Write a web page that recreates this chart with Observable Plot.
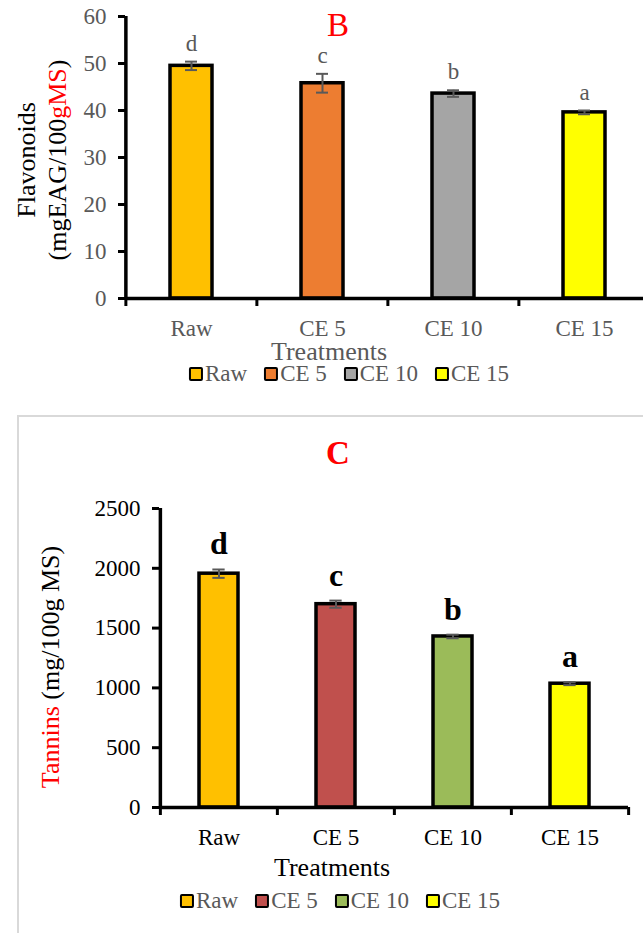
<!DOCTYPE html>
<html><head><meta charset="utf-8">
<script src="https://cdn.jsdelivr.net/npm/d3@7"></script>
<script src="https://cdn.jsdelivr.net/npm/@observablehq/plot@0.6"></script>
<style>
body{margin:0;background:#fff;}
#root{position:relative;width:643px;height:933px;overflow:hidden;font-family:"Liberation Serif","Times New Roman",serif;background:#fff;}
.abs{position:absolute;white-space:nowrap;}
.ctr{transform:translate(-50%,-50%);}
.legend{display:flex;align-items:center;font-size:23px;line-height:20px;color:#595959;}
.legend .item{display:flex;align-items:center;margin-right:17px;}
.legend .item:last-child{margin-right:0;}
.legend .sw{width:14px;height:14px;box-sizing:border-box;border:2.5px solid #000;border-radius:2px;margin-right:2px;}
.plotwrap{position:absolute;left:0;}
</style></head><body><div id="root"></div>
<script>
// ---------- data ----------
const treatments = ["Raw", "CE 5", "CE 10", "CE 15"];

const flavonoids = [49.5, 45.8, 43.6, 39.6];
const flavonoidsErr = [0.9, 2.0, 0.7, 0.4];
const flavonoidsLetters = ["d", "c", "b", "a"];
const flavonoidsColors = ["#FFC000", "#ED7D31", "#A5A5A5", "#FFFF00"];
const flavonoidsTicks = [0, 10, 20, 30, 40, 50, 60];

const tannins = [1955, 1700, 1430, 1035];
const tanninsErr = [35, 30, 15, 12];
const tanninsLetters = ["d", "c", "b", "a"];
const tanninsColors = ["#FFC000", "#C0504D", "#9BBB59", "#FFFF00"];
const tanninsTicks = [0, 500, 1000, 1500, 2000, 2500];

// ---------- helpers ----------
const root = document.getElementById("root");

function addDiv(html, cls, style) {
  const d = document.createElement("div");
  d.className = cls;
  d.innerHTML = html;
  Object.assign(d.style, style);
  root.appendChild(d);
  return d;
}

function makeChart(cfg) {
  const data = treatments.map((t, i) => ({t, v: cfg.values[i], e: cfg.errs[i], l: cfg.letters[i]}));
  const W = 643;
  const step = (W - cfg.ml - cfg.mr) / treatments.length;
  const pad = cfg.pad;
  const bw = step * (1 - pad);
  const capInset = (bw - 12) / 2;
  const last = treatments[treatments.length - 1];
  return Plot.plot({
    width: W, height: cfg.height,
    marginLeft: cfg.ml, marginRight: cfg.mr, marginTop: cfg.mt, marginBottom: cfg.mb,
    style: {fontFamily: '"Liberation Serif","Times New Roman",serif', background: "transparent", overflow: "visible"},
    x: {domain: treatments, paddingInner: pad, paddingOuter: pad / 2, axis: null},
    y: {domain: [0, cfg.ticks[cfg.ticks.length - 1]], axis: null},
    color: {domain: treatments, range: cfg.colors},
    marks: [
      Plot.barY(data, {x: "t", y: "v", fill: "t", stroke: "#000", strokeWidth: 3.5}),
      Plot.ruleX(data, {x: "t", y1: d => d.v - d.e, y2: d => d.v + d.e, stroke: "#595959", strokeWidth: 2}),
      Plot.tickY(data, {x: "t", y: d => d.v - d.e, stroke: "#595959", strokeWidth: 2, insetLeft: capInset, insetRight: capInset}),
      Plot.tickY(data, {x: "t", y: d => d.v + d.e, stroke: "#595959", strokeWidth: 2, insetLeft: capInset, insetRight: capInset}),
      Plot.text(data, {x: "t", y: d => d.v + d.e, text: "l", lineAnchor: "bottom", dy: cfg.letterDy,
        fontSize: cfg.letterSize, fontWeight: cfg.letterWeight, fill: cfg.letterColor}),
      Plot.ruleY([0], {stroke: "#000", strokeWidth: 3.5}),
      Plot.ruleX([treatments[0]], {x: d => d, dx: -step / 2, stroke: "#000", strokeWidth: 3.5}),
      Plot.ruleX(treatments, {x: d => d, dx: -step / 2, y1: 0, y2: 0, insetBottom: -8, stroke: "#000", strokeWidth: 3}),
      Plot.ruleX([last], {x: d => d, dx: step / 2, y1: 0, y2: 0, insetBottom: -8, stroke: "#000", strokeWidth: 3}),
      Plot.axisY({ticks: cfg.ticks, tickSize: 7, tickPadding: 12, stroke: "#000", strokeWidth: 3,
        fill: cfg.tickColor, fontSize: cfg.tickSize, label: null, tickFormat: d => String(d)}),
      Plot.axisX({tickSize: 0, tickPadding: 21, fill: cfg.catColor, fontSize: 23, label: null})
    ]
  });
}

// ---------- Chart B : flavonoids ----------
const svgB = makeChart({
  values: flavonoids, errs: flavonoidsErr, letters: flavonoidsLetters, colors: flavonoidsColors, ticks: flavonoidsTicks,
  height: 345, ml: 125, mr: -7, mt: 16, mb: 47, pad: 0.68,
  letterDy: -11, letterSize: 23, letterWeight: "normal", letterColor: "#595959",
  tickColor: "#595959", tickSize: 23, catColor: "#595959"
});
const wrapB = document.createElement("div");
wrapB.className = "plotwrap"; wrapB.style.top = "0px";
wrapB.appendChild(svgB); root.appendChild(wrapB);

addDiv("B", "abs ctr", {left: "338px", top: "25px", fontSize: "33px", color: "#FF0000"});
addDiv('Flavonoids<br>(mgEAG/100<span style="color:#FF0000">gMS</span>)', "abs",
  {left: "42px", top: "160px", fontSize: "26px", lineHeight: "31px", textAlign: "center", color: "#000",
   transform: "translate(-50%,-50%) rotate(-90deg)"});
addDiv("Treatments", "abs ctr", {left: "329px", top: "352px", fontSize: "26px", lineHeight: "20px", color: "#595959"});

function legend(colors, cx, cy) {
  const html = treatments.map((t, i) =>
    `<div class="item"><div class="sw" style="background:${colors[i]}"></div><span>${t}</span></div>`).join("");
  addDiv(html, "abs ctr legend", {left: cx + "px", top: cy + "px"});
}
legend(flavonoidsColors, 349, 374);

// ---------- Chart C : tannins ----------
addDiv("", "abs", {left: "17px", top: "415px", width: "700px", height: "600px",
  borderLeft: "2px solid #d9d9d9", borderTop: "2px solid #d9d9d9"});

const svgC = makeChart({
  values: tannins, errs: tanninsErr, letters: tanninsLetters, colors: tanninsColors, ticks: tanninsTicks,
  height: 370, ml: 159, mr: 15, mt: 28, mb: 43, pad: 0.67,
  letterDy: -15, letterSize: 32, letterWeight: "bold", letterColor: "#000",
  tickColor: "#000", tickSize: 23, catColor: "#000"
});
const wrapC = document.createElement("div");
wrapC.className = "plotwrap"; wrapC.style.top = "480px";
wrapC.appendChild(svgC); root.appendChild(wrapC);

addDiv("C", "abs ctr", {left: "338px", top: "453px", fontSize: "33px", fontWeight: "bold", color: "#FF0000"});
addDiv('<span style="color:#FF0000">Tannins</span> (mg/100g MS)', "abs",
  {left: "50px", top: "667px", fontSize: "26px", lineHeight: "31px", color: "#000",
   transform: "translate(-50%,-50%) rotate(-90deg)"});
addDiv("Treatments", "abs ctr", {left: "332px", top: "868px", fontSize: "26px", lineHeight: "20px", color: "#000"});
legend(tanninsColors, 340, 901);
</script>
</body></html>
